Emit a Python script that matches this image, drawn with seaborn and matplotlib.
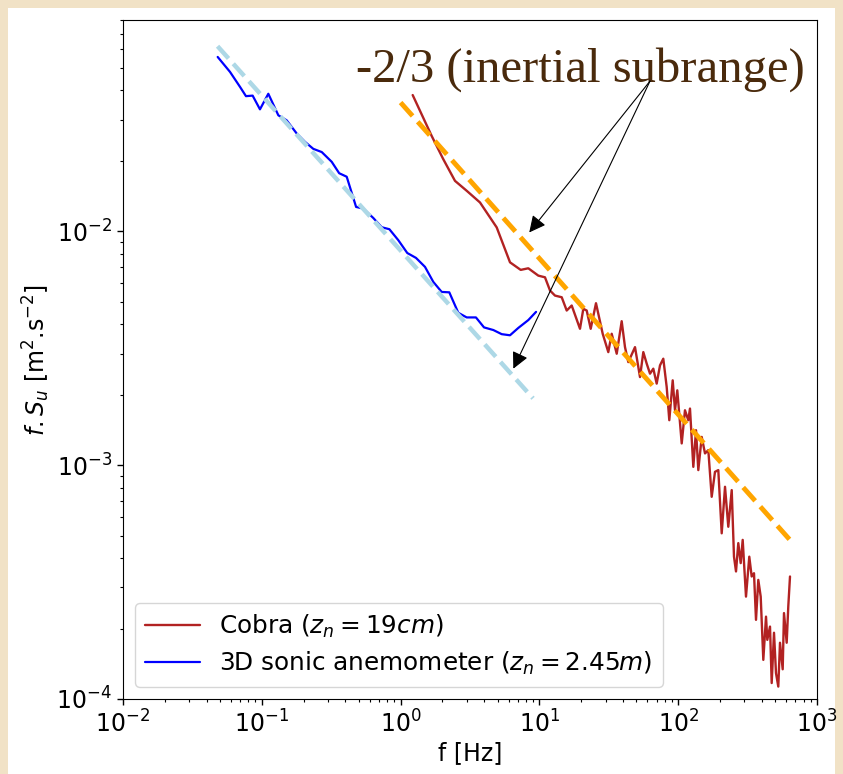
import numpy as np
import pandas as pd
import matplotlib
matplotlib.use("Agg")
import matplotlib.pyplot as plt
import seaborn as sns
from matplotlib.patches import Rectangle

# ---------------- data ----------------
sonic_f = [0.0481, 0.0590, 0.0697, 0.0769, 0.0859, 0.0970, 0.1114, 0.1316, 0.1510,
           0.1782, 0.2046, 0.2350, 0.2704, 0.319, 0.361, 0.409, 0.478, 0.538, 0.635,
           0.731, 0.830, 0.962, 1.117, 1.291, 1.499, 1.721, 1.977, 2.243, 2.604,
           2.993, 3.49, 3.99, 4.66, 5.35, 6.14, 7.05, 8.32, 9.46]
sonic_S = [0.0556, 0.0480, 0.0414, 0.0378, 0.0380, 0.0332, 0.0387, 0.0313, 0.0298,
           0.0262, 0.0241, 0.0225, 0.0218, 0.0198, 0.0177, 0.0171, 0.0127, 0.0125,
           0.0114, 0.0104, 0.0102, 0.00916, 0.00807, 0.00769, 0.00704, 0.00607,
           0.00550, 0.00548, 0.00448, 0.00428, 0.00428, 0.00388, 0.00378, 0.00363,
           0.00359, 0.00386, 0.00417, 0.00452]

cobra_f = [1.222, 1.675, 2.030, 2.465, 2.994, 3.733, 4.925, 6.141, 7.333, 8.318,
           9.82, 10.97, 11.93, 12.95, 14.48, 15.73, 17.09, 19.61, 20.72, 21.92,
           23.42, 25.57, 28.58, 31.36, 33.18, 36.06, 39.16, 41.37, 43.70, 48.84,
           53.06, 56.06, 59.32, 62.65, 66.17, 69.99, 73.93, 78.09, 82.62, 86.27,
           91.29, 94.82, 98.5, 106.0, 111.9, 118.2, 121.6, 128.5, 134.4, 139.6,
           147.7, 156.0, 164.8, 174.3, 184.1, 194.5, 205.8, 217.4, 229.6, 243.0,
           252.3, 260.9, 271.0, 282.0, 291.5, 307.9, 325.2, 338.4, 351.6, 363.5,
           377.6, 393.0, 410.4, 429.2, 438.5, 458.6, 471.6, 490.0, 506.5, 526.2,
           541.2, 566.0, 578.3, 604.8, 621.1, 639.0]
cobra_S = [0.03821, 0.02554, 0.02032, 0.01642, 0.01489, 0.01327, 0.01038, 0.007362,
           0.006834, 0.006943, 0.006459, 0.006353, 0.005575, 0.005307, 0.005220,
           0.004581, 0.004812, 0.003827, 0.004658, 0.004581, 0.003827, 0.004922,
           0.003644, 0.003042, 0.003644, 0.002994, 0.004124, 0.003195, 0.002757,
           0.003195, 0.002379, 0.003042, 0.002714, 0.002460, 0.002584, 0.002231,
           0.002669, 0.002851, 0.002158, 0.001556, 0.002304, 0.001716, 0.002088,
           0.001238, 0.001716, 0.001556, 0.001745, 0.000983, 0.001410, 0.000952,
           0.001320, 0.001122, 0.001159, 0.000732, 0.000936, 0.000952, 0.000511,
           0.000808, 0.000545, 0.000782, 0.000406, 0.000351, 0.000464, 0.000381,
           0.000479, 0.000274, 0.000406, 0.000334, 0.000345, 0.000218, 0.000323,
           0.000274, 0.000147, 0.000225, 0.000179, 0.000204, 0.000117, 0.000192,
           0.000129, 0.000113, 0.000174, 0.000134, 0.000233, 0.000174, 0.000249,
           0.000334]

# -2/3 reference lines (end points)
ref_sonic_f = [0.048, 9.0]
ref_sonic_S = [0.0618, 0.00193]
ref_cobra_f = [1.0, 640.0]
ref_cobra_S = [0.0355, 0.000478]

labels = ["Cobra ($z_n = 19cm$)", "3D sonic anemometer ($z_n = 2.45m$)"]
annot_text = "-2/3 (inertial subrange)"
annot_from = (62.65, 0.04385)
annot_tips = [(8.45, 0.00988), (6.49, 0.002584)]

# ---------------- figure ----------------
sns.set_style("ticks", {"axes.edgecolor": "black", "xtick.color": "black",
                        "ytick.color": "black", "text.color": "black",
                        "axes.labelcolor": "black"})
plt.rcParams["font.family"] = ["DejaVu Sans"]
plt.rcParams["mathtext.fontset"] = "dejavusans"

W, H = 843, 774
fig = plt.figure(figsize=(W / 100, H / 100), dpi=100)
fig.patch.set_facecolor("#f1e2c6")
bg = Rectangle((8 / W, 0), (835 - 8) / W, (774 - 8) / H,
               transform=fig.transFigure, facecolor="white",
               edgecolor="none", zorder=-10)
fig.add_artist(bg)

ax = fig.add_axes([123 / W, 1 - 699 / H, (817 - 123) / W, (699 - 20) / H])
ax.set_zorder(1)

df_c = pd.DataFrame({"f": cobra_f, "S": cobra_S})
df_s = pd.DataFrame({"f": sonic_f, "S": sonic_S})

sns.lineplot(data=df_c, x="f", y="S", ax=ax, color="firebrick", lw=1.7,
             estimator=None, sort=False, label=labels[0])
sns.lineplot(data=df_s, x="f", y="S", ax=ax, color="blue", lw=1.6,
             estimator=None, sort=False, label=labels[1])
sns.lineplot(x=ref_sonic_f, y=ref_sonic_S, ax=ax, color="lightblue", lw=3.2,
             linestyle="--", estimator=None, legend=False)
sns.lineplot(x=ref_cobra_f, y=ref_cobra_S, ax=ax, color="orange", lw=3.5,
             linestyle="--", estimator=None, legend=False)

ax.set_xscale("log")
ax.set_yscale("log")
ax.set_xlim(1e-2, 1e3)
ax.set_ylim(1e-4, 0.08)

for s in ax.spines.values():
    s.set_visible(True)
    s.set_color("black")
ax.tick_params(axis="both", which="major", labelsize=17, length=4.5, width=1)
ax.tick_params(axis="both", which="minor", length=2.5, width=0.8)

ax.set_xlabel("f [Hz]", fontsize=17, labelpad=3)
ax.set_ylabel("$f.S_u$ [m$^2$.s$^{-2}$]", fontsize=17, labelpad=3)

ax.text(19.8, 0.0493, annot_text, family="Liberation Serif", fontsize=35,
        color="#4a2a0c", ha="center", va="center")
for tip in annot_tips:
    ax.annotate("", xy=tip, xytext=annot_from,
                arrowprops=dict(arrowstyle="-|>", color="black", lw=0.8,
                                mutation_scale=25, shrinkA=0, shrinkB=0))

leg = ax.legend(loc="lower left", fontsize=17.8, handlelength=2.2,
                frameon=True, fancybox=True, labelspacing=0.4,
                borderaxespad=0.5)

fig.savefig("out.png", dpi=100, facecolor=fig.get_facecolor())
